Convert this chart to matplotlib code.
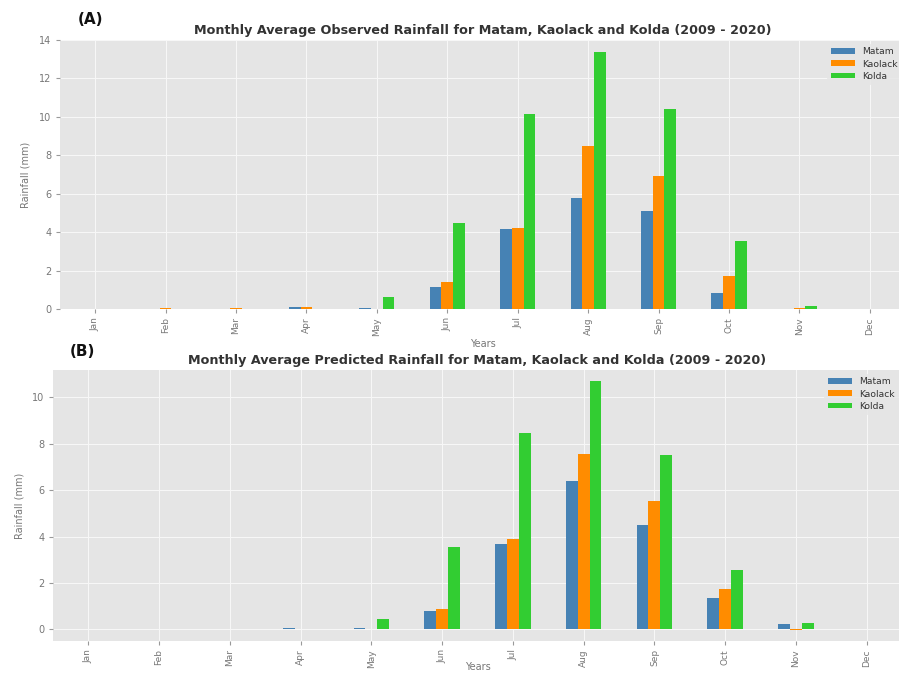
import matplotlib
matplotlib.use("Agg")
import matplotlib.pyplot as plt
import numpy as np

plt.style.use("ggplot")
plt.rcParams["font.family"] = ["DejaVu Sans"]

months = ["Jan", "Feb", "Mar", "Apr", "May", "Jun",
          "Jul", "Aug", "Sep", "Oct", "Nov", "Dec"]
stations = ["Matam", "Kaolack", "Kolda"]
colors = ["#4682B4", "#FF8C00", "#32CD32"]

# Observed monthly averages (mm)
obs_matam = [0.0, 0.0, 0.0, 0.08, 0.03, 1.16, 4.15, 5.80, 5.09, 0.83, 0.0, 0.0]
obs_kaolack = [0.0, 0.04, 0.04, 0.11, 0.02, 1.39, 4.20, 8.47, 6.94, 1.70, 0.05, 0.0]
obs_kolda = [0.0, 0.0, 0.0, 0.0, 0.64, 4.46, 10.16, 13.35, 10.42, 3.54, 0.16, 0.0]

# Predicted monthly averages (mm)
pred_matam = [0.0, 0.0, 0.0, 0.04, 0.08, 0.78, 3.67, 6.39, 4.49, 1.35, 0.22, 0.0]
pred_kaolack = [0.0, 0.0, 0.0, 0.0, 0.02, 0.89, 3.90, 7.54, 5.54, 1.73, -0.02, 0.0]
pred_kolda = [0.03, 0.0, 0.03, 0.03, 0.46, 3.55, 8.45, 10.70, 7.51, 2.58, 0.26, 0.0]

W, H = 899, 675
fig = plt.figure(figsize=(W / 100, H / 100), dpi=100)
fig.patch.set_facecolor("white")


def px_axes(left, top, right, bottom):
    return fig.add_axes([left / W, 1 - bottom / H, (right - left) / W, (bottom - top) / H])


def draw_panel(ax, series, title, yticks, ylim, xlabelpad):
    x = np.arange(len(months))
    n = len(series)
    bw = 0.5 / n
    for i, (vals, name, c) in enumerate(zip(series, stations, colors)):
        ax.bar(x + (i - (n - 1) / 2) * bw, vals, width=bw, color=c, label=name, zorder=2)
    ax.set_xlim(-0.5, len(months) - 0.5)
    ax.set_ylim(*ylim)
    ax.set_xticks(x)
    ax.set_xticklabels(months, rotation=90, fontsize=6.5, color="#777777")
    ax.set_yticks(yticks)
    ax.set_yticklabels([str(t) for t in yticks], fontsize=7, color="#777777")
    ax.tick_params(axis="both", length=3, color="#999999", pad=3)
    ax.set_facecolor("#E5E5E5")
    ax.grid(True, color="#F7F7F7", linewidth=0.8, zorder=0)
    ax.set_axisbelow(True)
    for s in ax.spines.values():
        s.set_visible(False)
    ax.set_ylabel("Rainfall (mm)", fontsize=7, color="#777777", labelpad=6)
    ax.set_xlabel("Years", fontsize=7, color="#777777", labelpad=xlabelpad)
    ax.set_title(title, fontsize=9.2, color="#333333", fontweight="bold", pad=4)
    leg = ax.legend(loc="upper right", fontsize=6.6, frameon=True,
                    handlelength=2.6, handleheight=0.6, borderaxespad=0.4,
                    labelspacing=0.35)
    leg.get_frame().set_facecolor("#E5E5E5")
    leg.get_frame().set_edgecolor("#E5E5E5")
    for t in leg.get_texts():
        t.set_color("#333333")


ax1 = px_axes(60, 40, 905, 309)
draw_panel(ax1, [obs_matam, obs_kaolack, obs_kolda],
           "Monthly Average Observed Rainfall for Matam, Kaolack and Kolda (2009 - 2020)",
           list(range(0, 15, 2)), (0, 14), 2)

ax2 = px_axes(53, 370, 902, 641)
draw_panel(ax2, [pred_matam, pred_kaolack, pred_kolda],
           "Monthly Average Predicted Rainfall for Matam, Kaolack and Kolda (2009 - 2020)",
           list(range(0, 11, 2)), (-0.5, 11.18), -4)

fig.text(78 / W, 1 - 20 / H, "(A)", fontsize=11, fontweight="bold", va="center", ha="left", color="#111111")
fig.text(70 / W, 1 - 352 / H, "(B)", fontsize=11, fontweight="bold", va="center", ha="left", color="#111111")

fig.savefig("out.png", dpi=100, facecolor="white")
